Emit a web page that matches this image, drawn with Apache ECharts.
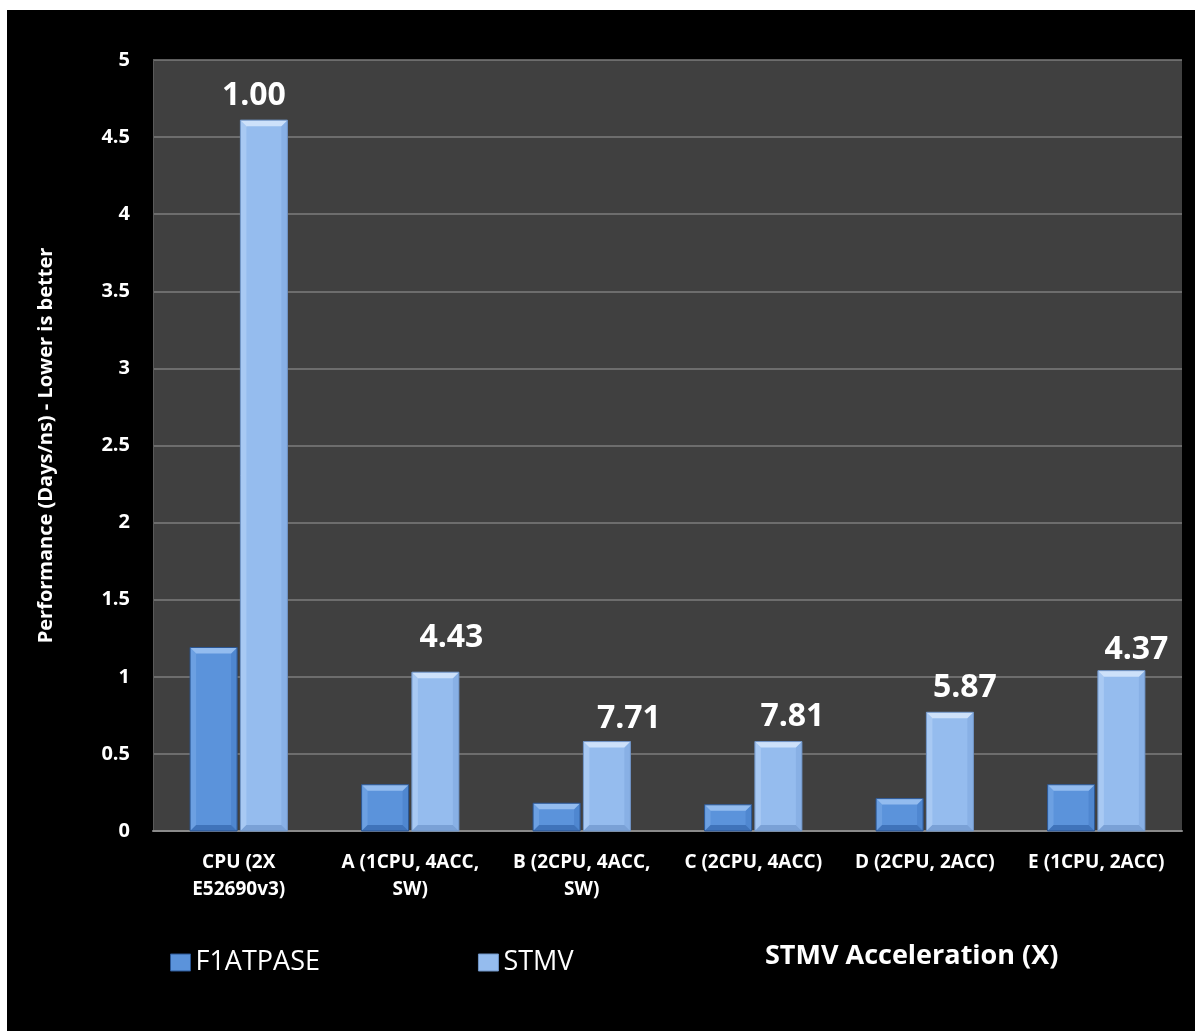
<!DOCTYPE html>
<html>
<head>
<meta charset="utf-8">
<script src="https://cdn.jsdelivr.net/npm/echarts@6/dist/echarts.min.js"></script>
<style>
html,body{margin:0;padding:0;background:#ffffff;}
#chart{width:1195px;height:1031px;}
</style>
</head>
<body>
<div id="chart"></div>
<script>
// ---- data ----
const categories = ['CPU (2X\nE52690v3)', 'A (1CPU, 4ACC,\nSW)', 'B (2CPU, 4ACC,\nSW)', 'C (2CPU, 4ACC)', 'D (2CPU, 2ACC)', 'E (1CPU, 2ACC)'];
const f1atpase = [1.19, 0.30, 0.18, 0.17, 0.21, 0.30];
const stmv = [4.61, 1.03, 0.58, 0.58, 0.77, 1.04];
const stmvAcceleration = ['1.00', '4.43', '7.71', '7.81', '5.87', '4.37'];
const yTicks = [0, 0.5, 1, 1.5, 2, 2.5, 3, 3.5, 4, 4.5, 5];

// ---- label layout (style only) ----
const labelDx = [-10, 16, 22, 14, 15, 15];
const labelGap = [24, 34, 23, 25, 24, 21];

const FONT = '"Open Sans", "Noto Sans", sans-serif';
const BAR_W = 47, BAR_GAP = 3.3, BEV = 6;

const palettes = [
  {body:'#5b93db', top:'#93bcef', left:'#6ca0e2', right:'#4f87d0', bottom:'#3f73ba', border:'#2b5591'},
  {body:'#95bcee', top:'#cde1fa', left:'#a8c9f3', right:'#88b0e5', bottom:'#7aa1d6', border:'#6f93c4'}
];

function makeRender(si) {
  return function (params, api) {
    const idx = api.value(0);
    const val = api.value(1);
    const p0 = api.coord([idx, 0]);
    const p1 = api.coord([idx, val]);
    const off = (si === 0 ? -1 : 1) * (BAR_W + BAR_GAP) / 2;
    const cx = p0[0] + off;
    const x0 = cx - BAR_W / 2, x1 = cx + BAR_W / 2;
    const yt = p1[1], yb = p0[1];
    const h = yb - yt;
    const b = Math.min(BEV, h / 2.5);
    const c = palettes[si];
    const children = [
      {type:'rect', shape:{x:x0, y:yt, width:BAR_W, height:h}, style:{fill:c.body}},
      {type:'polygon', shape:{points:[[x0,yt],[x0+b,yt+b],[x0+b,yb-b],[x0,yb]]}, style:{fill:c.left}},
      {type:'polygon', shape:{points:[[x1,yt],[x1-b,yt+b],[x1-b,yb-b],[x1,yb]]}, style:{fill:c.right}},
      {type:'polygon', shape:{points:[[x0,yb],[x1,yb],[x1-b,yb-b],[x0+b,yb-b]]}, style:{fill:c.bottom}},
      {type:'polygon', shape:{points:[[x0,yt],[x1,yt],[x1-b,yt+b],[x0+b,yt+b]]}, style:{fill:c.top}},
      {type:'rect', shape:{x:x0, y:yt, width:BAR_W, height:h}, style:{fill:'none', stroke:c.border, lineWidth:1}}
    ];
    if (si === 1) {
      children.push({
        type:'text',
        style:{
          text: stmvAcceleration[idx],
          x: cx + labelDx[idx],
          y: yt - labelGap[idx],
          align:'center', verticalAlign:'middle',
          fill:'#ffffff', font:'bold 32px ' + FONT
        }
      });
    }
    return {type:'group', children: children};
  };
}

const chart = echarts.init(document.getElementById('chart'), null, {renderer:'canvas'});
chart.setOption({
  backgroundColor:'#ffffff',
  animation:false,
  graphic:[
    {type:'rect', left:7, top:10, z:-10, shape:{width:1188, height:1021}, style:{fill:'#000000'}},
    {type:'text', left:765, top:943, style:{text:'STMV Acceleration (X)', fill:'#ffffff', font:'bold 27px ' + FONT}}
  ],
  grid:{left:153, right:13, top:60, bottom:200, show:true, backgroundColor:'#404040', borderWidth:0},
  legend:{
    left:165, top:944, itemWidth:20, itemHeight:17, itemGap:158,
    textStyle:{color:'#ffffff', fontSize:27, fontFamily:FONT},
    data:[
      {name:'F1ATPASE', icon:'rect', itemStyle:{color:palettes[0].body, borderColor:palettes[0].border, borderWidth:1}},
      {name:'STMV', icon:'rect', itemStyle:{color:palettes[1].body, borderColor:palettes[1].border, borderWidth:1}}
    ]
  },
  xAxis:{
    type:'category', data:categories,
    axisLine:{show:true, lineStyle:{color:'#8a8a8a', width:2}},
    axisTick:{show:false},
    axisLabel:{interval:0, color:'#ffffff', fontFamily:FONT, fontWeight:'bold', fontSize:19, lineHeight:27, margin:18}
  },
  yAxis:{
    type:'value', min:yTicks[0], max:yTicks[yTicks.length-1], interval:0.5,
    name:'Performance (Days/ns) - Lower is better',
    nameLocation:'middle', nameGap:97,
    nameTextStyle:{color:'#ffffff', fontFamily:FONT, fontWeight:'bold', fontSize:20},
    axisLine:{show:true, lineStyle:{color:'#5a5a5a', width:1}},
    axisTick:{show:false},
    axisLabel:{color:'#ffffff', fontFamily:FONT, fontWeight:'bold', fontSize:20, margin:23},
    splitLine:{lineStyle:{color:'#7c7c7c', width:1.5}}
  },
  series:[
    {name:'F1ATPASE', type:'custom', renderItem:makeRender(0), itemStyle:{color:palettes[0].body},
     encode:{x:0, y:1}, data:f1atpase.map((v,i)=>[i,v]), z:3},
    {name:'STMV', type:'custom', renderItem:makeRender(1), itemStyle:{color:palettes[1].body},
     encode:{x:0, y:1}, data:stmv.map((v,i)=>[i,v]), z:3}
  ]
});
</script>
</body>
</html>
